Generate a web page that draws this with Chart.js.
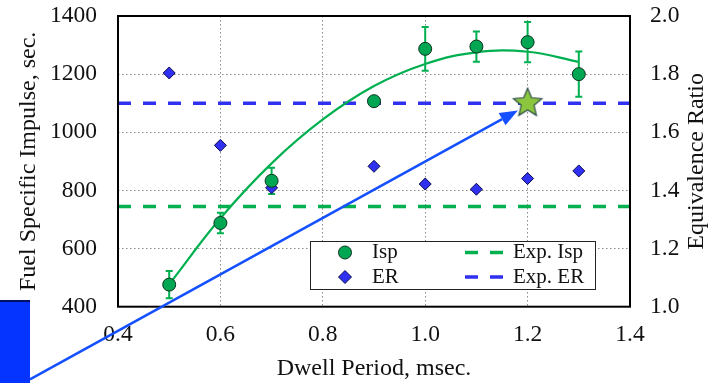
<!DOCTYPE html>
<html lang="en">
<head>
<meta charset="UTF-8">
<title>Dwell Period vs Isp and ER</title>
<script src="https://cdn.jsdelivr.net/npm/chart.js"></script>
<style>
  html, body { margin: 0; padding: 0; background: #fff; }
  #wrap { position: relative; width: 715px; height: 383px; }
  #tab { position: absolute; left: 0; top: 300px; width: 30px; height: 83px;
         background: #0533ff; border-top: 2px solid #001060; box-sizing: border-box; }
</style>
</head>
<body>
<div id="wrap">
  <canvas id="chart"></canvas>
  <div id="tab"></div>
</div>
<script>
// values
const dwell   = [0.5, 0.6, 0.7, 0.9, 1.0, 1.1, 1.2, 1.3];
const isp     = [476, 688, 833, 1107, 1287, 1295, 1310, 1200];
const ispErr  = [47, 35, 45, 15, 75, 52, 69, 78];
const er      = [1.804, 1.555, 1.409, 1.483, 1.422, 1.404, 1.441, 1.467];
const fitDwell = [0.5, 0.6, 0.7, 0.8, 0.9, 1.0, 1.1, 1.2, 1.3];
const fitIsp   = [477, 704, 893, 1044, 1159, 1235, 1275, 1277, 1242];
const expIsp = 745;
const expEr = 1.7;
const targetDwell = 1.2;
const targetEr = 1.7;
const arrowFrom = [0.228, 150];   // dwell, Isp
const arrowTo   = [1.181, 1075];
const xRange = [0.4, 1.4];
const ispRange = [400, 1400];
const erRange = [1.0, 2.0];

const green = '#00b050';
const dotGreen = '#00a651';
const blue = '#3030f0';
const arrowBlue = '#1450ff';
const serif = 'Liberation Serif';

Chart.defaults.font.family = serif;
Chart.defaults.color = '#111';

function starImage(r) {
  const c = document.createElement('canvas');
  const s = Math.ceil(r * 2 + 4);
  c.width = c.height = s;
  const g = c.getContext('2d');
  g.translate(s / 2, s / 2);
  g.beginPath();
  for (let i = 0; i < 10; i++) {
    const rad = i % 2 ? r * 0.45 : r;
    const a = -Math.PI / 2 + i * Math.PI / 5;
    g.lineTo(rad * Math.cos(a), rad * Math.sin(a));
  }
  g.closePath();
  g.fillStyle = '#8cc63f';
  g.fill();
  g.lineWidth = 1.2;
  g.strokeStyle = '#2b4a4a';
  g.stroke();
  return c;
}

function noPad(s) {
  s.paddingTop = 0; s.paddingBottom = 0;
  s.paddingLeft = 0; s.paddingRight = 0;
}

function sideTitle(ctx, text, cx, cy) {
  ctx.save();
  ctx.fillStyle = '#111';
  ctx.textAlign = 'center';
  ctx.textBaseline = 'middle';
  ctx.font = '24px ' + serif;
  ctx.translate(cx, cy);
  ctx.rotate(-Math.PI / 2);
  ctx.fillText(text, 0, 0);
  ctx.restore();
}

const extras = {
  id: 'extras',
  beforeDatasetsDraw(chart) {
    const {ctx, scales: {x, y}} = chart;
    ctx.save();
    ctx.strokeStyle = green;
    ctx.lineWidth = 2;
    dwell.forEach((d, i) => {
      const px = x.getPixelForValue(d);
      const t = y.getPixelForValue(isp[i] + ispErr[i]);
      const b = y.getPixelForValue(isp[i] - ispErr[i]);
      ctx.beginPath();
      ctx.moveTo(px, t); ctx.lineTo(px, b);
      ctx.moveTo(px - 3.5, t); ctx.lineTo(px + 3.5, t);
      ctx.moveTo(px - 3.5, b); ctx.lineTo(px + 3.5, b);
      ctx.stroke();
    });
    ctx.restore();
  },
  afterDatasetsDraw(chart) {
    const {ctx, chartArea: a, scales: {x, y}} = chart;
    ctx.save();
    // frame
    ctx.strokeStyle = '#000';
    ctx.lineWidth = 2;
    ctx.strokeRect(a.left, a.top, a.right - a.left, a.bottom - a.top);

    // arrow
    const x0 = x.getPixelForValue(arrowFrom[0]), y0 = y.getPixelForValue(arrowFrom[1]);
    const x1 = x.getPixelForValue(arrowTo[0]), y1 = y.getPixelForValue(arrowTo[1]);
    const ang = Math.atan2(y1 - y0, x1 - x0);
    const hl = 18, hw = 7;
    ctx.strokeStyle = arrowBlue;
    ctx.fillStyle = arrowBlue;
    ctx.lineWidth = 2.5;
    ctx.beginPath();
    ctx.moveTo(x0, y0);
    ctx.lineTo(x1 - hl * Math.cos(ang), y1 - hl * Math.sin(ang));
    ctx.stroke();
    ctx.beginPath();
    ctx.moveTo(x1, y1);
    ctx.lineTo(x1 - hl * Math.cos(ang) + hw * Math.sin(ang), y1 - hl * Math.sin(ang) - hw * Math.cos(ang));
    ctx.lineTo(x1 - hl * Math.cos(ang) - hw * Math.sin(ang), y1 - hl * Math.sin(ang) + hw * Math.cos(ang));
    ctx.closePath();
    ctx.fill();

    // legend box
    const L = a.left + 192, T = a.top + 225, W = 285, H = 48;
    ctx.fillStyle = '#fff';
    ctx.fillRect(L, T, W, H);
    ctx.strokeStyle = '#222';
    ctx.lineWidth = 1;
    ctx.strokeRect(L + 0.5, T + 0.5, W, H);
    const r1 = T + 11.5, r2 = T + 36;
    ctx.fillStyle = dotGreen; ctx.strokeStyle = '#0c3320';
    ctx.beginPath(); ctx.arc(L + 35, r1, 6.5, 0, Math.PI * 2); ctx.fill(); ctx.stroke();
    ctx.fillStyle = blue; ctx.strokeStyle = '#0a0a50';
    ctx.beginPath();
    ctx.moveTo(L + 35, r2 - 6.5); ctx.lineTo(L + 41.5, r2); ctx.lineTo(L + 35, r2 + 6.5); ctx.lineTo(L + 28.5, r2);
    ctx.closePath(); ctx.fill(); ctx.stroke();
    ctx.lineWidth = 3.5;
    ctx.setLineDash([13, 12]);
    ctx.strokeStyle = green;
    ctx.beginPath(); ctx.moveTo(L + 155, r1); ctx.lineTo(L + 193, r1); ctx.stroke();
    ctx.strokeStyle = blue;
    ctx.beginPath(); ctx.moveTo(L + 155, r2); ctx.lineTo(L + 193, r2); ctx.stroke();
    ctx.setLineDash([]);
    ctx.fillStyle = '#111';
    ctx.font = '21px ' + serif;
    ctx.textBaseline = 'middle';
    ctx.textAlign = 'left';
    ctx.fillText('Isp', L + 62, r1);
    ctx.fillText('ER', L + 62, r2);
    ctx.fillText('Exp. Isp', L + 203, r1);
    ctx.fillText('Exp. ER', L + 203, r2);
    ctx.restore();
  },
  afterDraw(chart) {
    const {ctx, chartArea: a} = chart;
    const cy = (a.top + a.bottom) / 2;
    sideTitle(ctx, 'Fuel Specific Impulse, sec.', 29, cy);
    sideTitle(ctx, 'Equivalence Ratio', 697, cy);
  }
};

const pts = (xs, ys) => xs.map((v, i) => ({x: v, y: ys[i]}));

new Chart(document.getElementById('chart'), {
  type: 'scatter',
  data: {
    datasets: [
      {
        label: 'Isp',
        data: pts(dwell, isp),
        yAxisID: 'y',
        pointStyle: 'circle',
        pointRadius: 6.5,
        backgroundColor: dotGreen,
        borderColor: '#0c3320',
        borderWidth: 1,
        order: 2
      },
      {
        label: 'ER',
        data: pts(dwell, er),
        yAxisID: 'y1',
        pointStyle: 'rectRot',
        pointRadius: 6,
        backgroundColor: blue,
        borderColor: '#0a0a50',
        borderWidth: 1,
        order: 2
      },
      {
        label: 'Fit',
        type: 'line',
        data: pts(fitDwell, fitIsp),
        yAxisID: 'y',
        borderColor: green,
        borderWidth: 2.2,
        pointRadius: 0,
        tension: 0.4,
        fill: false,
        order: 4
      },
      {
        label: 'Exp. Isp',
        type: 'line',
        data: pts(xRange, [expIsp, expIsp]),
        yAxisID: 'y',
        borderColor: green,
        borderWidth: 3.5,
        borderDash: [13, 12],
        pointRadius: 0,
        order: 5
      },
      {
        label: 'Exp. ER',
        type: 'line',
        data: pts(xRange, [expEr, expEr]),
        yAxisID: 'y1',
        borderColor: blue,
        borderWidth: 3.5,
        borderDash: [13, 12],
        pointRadius: 0,
        order: 5
      },
      {
        label: 'Target',
        data: [{x: targetDwell, y: targetEr}],
        yAxisID: 'y1',
        pointStyle: starImage(15),
        pointRadius: 15,
        order: 1
      }
    ]
  },
  options: {
    responsive: true,
    maintainAspectRatio: false,
    animation: false,
    layout: {padding: {top: 15.5, right: 0, left: 0, bottom: 0}},
    plugins: {legend: {display: false}, tooltip: {enabled: false}},
    scales: {
      x: {
        type: 'linear',
        min: xRange[0], max: xRange[1],
        afterFit: s => { s.height = 76.3; noPad(s); },
        border: {display: false, dash: [1.5, 2.5]},
        grid: {color: '#8a8a8a', drawTicks: false, lineWidth: 1},
        ticks: {stepSize: 0.2, padding: 14, font: {size: 23.5}, color: '#111',
                callback: v => v.toFixed(1)},
        title: {display: true, text: 'Dwell Period, msec.', font: {size: 24},
                color: '#111', padding: {top: 0, bottom: 0}}
      },
      y: {
        position: 'left',
        min: ispRange[0], max: ispRange[1],
        afterFit: s => { s.width = 118; noPad(s); },
        border: {display: false, dash: [1.5, 2.5]},
        grid: {color: '#8a8a8a', drawTicks: false, lineWidth: 1},
        ticks: {stepSize: 200, padding: 21, font: {size: 23.5}, color: '#111',
                callback: v => String(v)}
      },
      y1: {
        position: 'right',
        min: erRange[0], max: erRange[1],
        afterFit: s => { s.width = 85; noPad(s); },
        border: {display: false},
        grid: {display: false, drawTicks: false},
        ticks: {stepSize: 0.2, padding: 20, font: {size: 23.5}, color: '#111',
                callback: v => v.toFixed(1)}
      }
    }
  },
  plugins: [extras]
});
</script>
</body>
</html>
